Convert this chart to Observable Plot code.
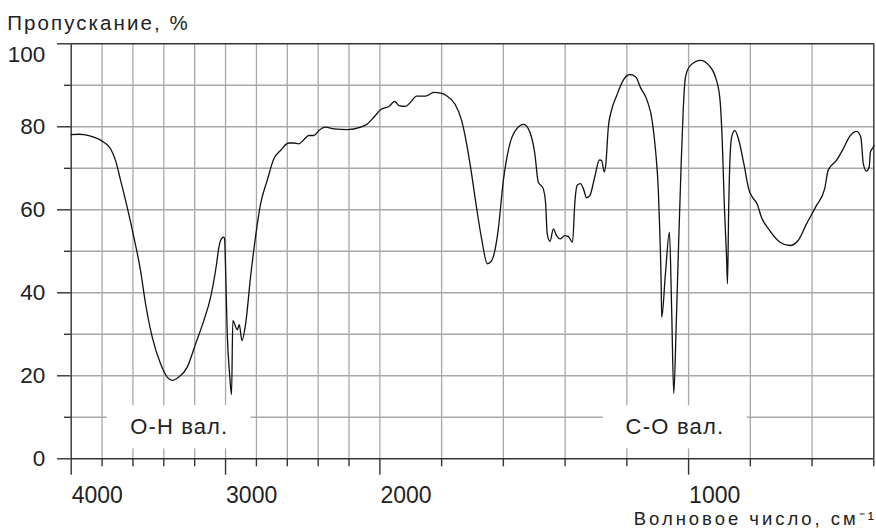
<!DOCTYPE html>
<html><head><meta charset="utf-8">
<script src="https://cdn.jsdelivr.net/npm/d3@7"></script>
<script src="https://cdn.jsdelivr.net/npm/@observablehq/plot@0.6"></script>
<style>body{margin:0;background:#fff}</style>
</head><body><div id="chart"></div>
<script>
// Spectrum values (wavenumber in cm⁻¹, transmittance in %)
const wavenumber = [
  4000, 3950, 3918, 3854, 3789, 3745, 3713, 3680, 3637, 3594, 3551, 3518, 3475, 3421, 3378, 3346,
  3303, 3248, 3194, 3141, 3097, 3058, 3043, 3032, 3011, 3006, 3000, 2989, 2974, 2961, 2953, 2924,
  2911, 2894, 2870, 2838, 2806, 2773, 2730, 2687, 2644, 2590, 2557, 2525, 2493, 2460, 2428, 2395,
  2352, 2298, 2211, 2125, 2082, 2039, 1998, 1971, 1952, 1938, 1917, 1901, 1881, 1852, 1825, 1803,
  1784, 1757, 1735, 1719, 1703, 1687, 1670, 1652, 1643, 1633, 1617, 1600, 1579, 1557, 1534, 1514,
  1498, 1487, 1471, 1463, 1458, 1449, 1438, 1428, 1415, 1401, 1390, 1376, 1368, 1361, 1350, 1341,
  1330, 1320, 1304, 1289, 1282, 1273, 1268, 1260, 1250, 1233, 1212, 1190, 1171, 1156, 1134, 1118,
  1107, 1098, 1093, 1089, 1087, 1075, 1062, 1055, 1048, 1040, 1032, 1024, 1017, 1010, 994, 961,
  934, 913, 899, 891, 884, 877, 874, 870, 864, 859, 850, 837, 821, 804, 793, 778,
  764, 737, 704, 672, 645, 618, 586, 559, 548, 521, 499, 478, 456, 442, 434, 424,
  415, 411, 402, 400
];
const transmittance = [
  78.1, 78.2, 78.1, 77.5, 76.3, 74.7, 71.9, 67.1, 60.6, 53.4, 45.4, 37.3, 29.3, 22.9, 19.7, 18.9,
  19.7, 22.1, 27.7, 33.3, 38.9, 47.0, 51.0, 52.6, 53.4, 53.0, 46.2, 30.1, 20.5, 15.5, 33.3, 31.1,
  32.3, 28.5, 32.5, 43.8, 53.4, 61.4, 67.1, 72.3, 74.3, 76.1, 76.1, 75.9, 76.9, 77.9, 77.9, 79.1,
  79.9, 79.5, 79.3, 79.9, 80.7, 82.3, 84.1, 84.9, 86.1, 85.1, 84.9, 85.9, 87.4, 87.4, 88.3, 88.1,
  87.5, 85.5, 81.5, 75.9, 68.7, 60.6, 52.8, 47.0, 47.3, 48.6, 55.0, 67.1, 75.9, 79.5, 80.6, 78.7,
  73.5, 66.7, 65.1, 61.4, 54.2, 52.4, 55.4, 53.8, 53.0, 53.8, 53.6, 52.2, 62.2, 65.9, 66.3, 65.1,
  62.9, 63.4, 67.9, 72.0, 71.9, 69.1, 71.1, 79.9, 83.9, 87.5, 91.2, 92.6, 92.0, 89.5, 86.3, 81.5,
  74.3, 64.7, 54.2, 43.0, 34.1, 44.6, 54.6, 36.5, 15.7, 32.5, 52.6, 71.1, 84.7, 92.0, 94.8, 96.0,
  94.8, 92.0, 87.1, 76.7, 60.6, 48.6, 42.2, 60.6, 75.1, 78.0, 79.1, 76.7, 71.1, 64.7, 63.0, 61.4,
  58.2, 55.0, 52.2, 51.4, 52.6, 56.6, 61.0, 65.1, 69.5, 71.9, 74.7, 77.7, 78.9, 77.5, 71.1, 69.3,
  70.3, 73.9, 75.1, 75.5
];

// Axis and grid values
const xScaleBreak = 2000;   // below this wavenumber the axis is stretched twice
const xMajorTicks = [4000, 3000, 2000, 1000];
const xMinorTicks = [3800, 3600, 3400, 3200, 2800, 2600, 2400, 2200, 1800, 1600, 1400, 1200, 800, 600, 400];
const xGrid = [3800, 3600, 3400, 3200, 3000, 2800, 2600, 2400, 2200, 2000, 1800, 1600, 1400, 1200, 1000, 800, 600];
const xFrame = [4000, 400];
const yMajorTicks = [0, 20, 40, 60, 80, 100];
const yMinorTicks = [10, 30, 50, 70, 90];
const yGrid = [10, 20, 30, 40, 50, 60, 70, 80, 90];
const yFrame = [0, 100];
const yTickLabels = [0, 20, 40, 60, 80];
const yTopLabel = [100];

// Band annotations
const bandLabels = ["O-H вал.", "C-O вал."];
const bandCenter = [3300, 1044];
const bandFrom = [3767, 1276];
const bandTo = [2834, 810];
const bandLow = [2.4, 2.4];
const bandHigh = [12.8, 12.8];
const bandMid = [7.6, 7.6];

const yTitle = "Пропускание, %";
const xTitle = "Волновое число, см⁻¹";

const W = 876, H = 528, mL = 70.7, mR = 2.7, mT = 43.3, mB = 69.7;
const frameColor = "#333";
const gridColor = "#a8a8a8";
const textColor = "#222";
const fs = 22.5;
const idx = d3.range(bandLabels.length);

const chart = Plot.plot({
  width: W, height: H,
  marginLeft: mL, marginRight: mR, marginTop: mT, marginBottom: mB,
  style: {fontFamily: "'Liberation Sans', Arial, Helvetica, sans-serif", fontSize: fs + "px", color: textColor, background: "#fff"},
  x: {transform: w => (w >= xScaleBreak ? w : xScaleBreak - 2 * (xScaleBreak - w)), reverse: true},
  y: {domain: [0, 100]},
  marks: [
    Plot.ruleX(xGrid, {stroke: gridColor, strokeWidth: 1.3}),
    Plot.ruleY(yGrid, {stroke: gridColor, strokeWidth: 1.4}),
    Plot.rect(idx, {x1: i => bandFrom[i], x2: i => bandTo[i], y1: i => bandLow[i], y2: i => bandHigh[i], fill: "white"}),
    Plot.ruleX(xFrame, {stroke: frameColor, strokeWidth: 1.4}),
    Plot.ruleY(yFrame, {stroke: frameColor, strokeWidth: 1.4}),
    Plot.axisX(xMajorTicks, {tickSize: 16.4, tickFormat: () => "", stroke: frameColor, strokeWidth: 1.4, label: null}),
    Plot.axisX(xMinorTicks, {tickSize: 8, tickFormat: () => "", stroke: frameColor, strokeWidth: 1.4, label: null}),
    Plot.axisX(xMajorTicks, {tickSize: 0, tickPadding: 28, textAnchor: "start", dx: 0.5, tickFormat: d => String(d), fill: textColor, fontSize: 23, label: null}),
    Plot.axisY(yMajorTicks, {tickSize: 13.7, tickFormat: () => "", stroke: frameColor, strokeWidth: 1.4, label: null}),
    Plot.axisY(yMinorTicks, {tickSize: 6.7, tickFormat: () => "", stroke: frameColor, strokeWidth: 1.4, label: null}),
    Plot.axisY(yTickLabels, {tickSize: 0, tickPadding: 26, tickFormat: d => String(d), fill: textColor, fontSize: fs, label: null}),
    Plot.text(yTopLabel, {y: d => d, frameAnchor: "left", textAnchor: "end", dx: -26, dy: 11, text: d => String(d), fill: textColor, fontSize: fs}),
    Plot.line(wavenumber, {x: wavenumber, y: transmittance, curve: "monotone-x", stroke: "#111", strokeWidth: 1.3}),
    Plot.text(idx, {x: i => bandCenter[i], y: i => bandMid[i], text: i => bandLabels[i], fill: textColor, fontSize: 22}),
    Plot.text([yTitle], {frameAnchor: "top-left", textAnchor: "start", lineAnchor: "bottom", dx: 6.7 - mL, dy: 29.3 - mT, text: d => d, fill: textColor, fontSize: 20.5}),
    Plot.text([xTitle], {frameAnchor: "bottom-right", textAnchor: "start", lineAnchor: "bottom", dx: 633.3 - (W - mR), dy: 524 - (H - mB), text: d => d, fill: textColor, fontSize: 18.5})
  ]
});
document.getElementById("chart").appendChild(chart);

// the reference lettering is a little wider than Liberation Sans: stretch to the reference widths
const targetWidth = new Map([[yTitle, 180.6], [xTitle, 240], [bandLabels[0], 97], [bandLabels[1], 97.7]]);
d3.select(chart).selectAll("text").each(function () {
  const t = this.textContent;
  if (!targetWidth.has(t)) return;
  const natural = this.getComputedTextLength();
  const n = Array.from(t).length;
  const spacing = Math.max(0, (targetWidth.get(t) - natural) / Math.max(1, n - 1));
  this.setAttribute("letter-spacing", spacing.toFixed(2));
});
</script>
</body></html>
